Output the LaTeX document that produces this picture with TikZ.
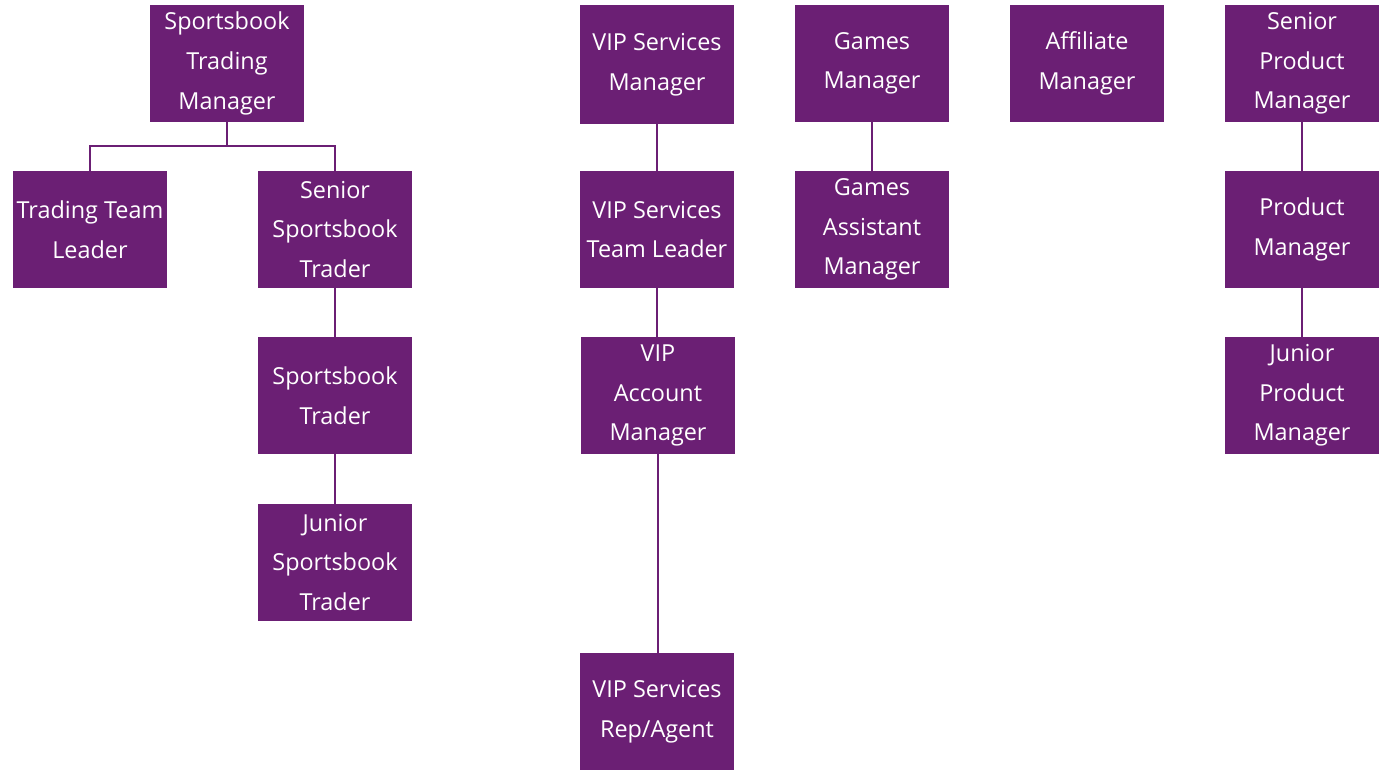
\documentclass[tikz,border=0pt]{standalone}
\usepackage{fontspec}
\setmainfont{Open Sans}
\usepackage{tikz}
\definecolor{plum}{RGB}{107,31,116}
\tikzstyle{role}=[rectangle, fill=plum, text=white, minimum width=77pt, minimum height=58.5pt, inner sep=0pt, align=center, font=\fontsize{11.7}{19.8}\selectfont]
\tikzstyle{link}=[draw=plum, line width=1.2pt]

\begin{document}
\begin{tikzpicture}[x=0.5pt, y=-0.5pt]
		   \useasboundingbox (0,0) rectangle (1380,770);
		   \begin{scope}
			   \node (stm) at (227, 63.5)[role] {Sportsbook\\Trading\\Manager};
			   \node (ttl) at (90, 229.5)[role] {Trading Team\\Leader};
			   \node (sst) at (335, 229.5)[role] {Senior\\Sportsbook\\Trader};
			   \node (st) at (335, 395.5)[role] {Sportsbook\\Trader};
			   \node (jst) at (335, 562.5)[role] {Junior\\Sportsbook\\Trader};

			   \node (vsm) at (657, 64.5)[role, minimum height=59.5pt] {VIP Services\\Manager};
			   \node (vtl) at (657, 229.5)[role] {VIP Services\\Team Leader};
			   \node (vam) at (658, 395.5)[role] {VIP\\Account\\Manager};
			   \node (vra) at (657, 711.5)[role] {VIP Services\\Rep/Agent};

			   \node (gm) at (872, 63.5)[role] {Games\\Manager};
			   \node (gam) at (872, 229.5)[role] {Games\\Assistant\\Manager};

			   \node (am) at (1087, 63.5)[role] {Affiliate\\Manager};

			   \node (spm) at (1302, 63.5)[role] {Senior\\Product\\Manager};
			   \node (pm) at (1302, 229.5)[role] {Product\\Manager};
			   \node (jpm) at (1302, 395.5)[role] {Junior\\Product\\Manager};

			   \coordinate (fork) at (227, 146);
		   \end{scope}
		   \begin{scope}
			   \path [link] (stm) -- (fork);
			   \path [link] (fork) -| (ttl);
			   \path [link] (fork) -| (sst);
			   \path [link] (sst) -- (st);
			   \path [link] (st) -- (jst);

			   \path [link] (vsm) -- (vtl);
			   \path [link] (vtl.south) -- (vam.north -| vtl.south);
			   \path [link] (vam.south) -- (vra.north -| vam.south);

			   \path [link] (gm) -- (gam);

			   \path [link] (spm) -- (pm);
			   \path [link] (pm) -- (jpm);
		   \end{scope}
	   \end{tikzpicture}
\end{document}
